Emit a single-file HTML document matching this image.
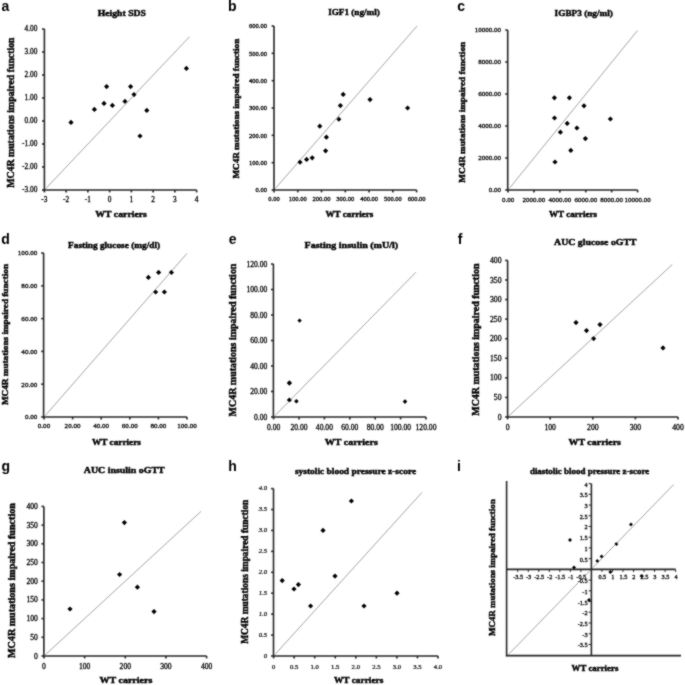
<!DOCTYPE html>
<html><head><meta charset="utf-8"><style>
html,body{margin:0;padding:0;background:#fff;width:685px;height:685px;overflow:hidden}
svg{display:block}
</style></head><body>
<svg width="685" height="685" viewBox="0 0 685 685">
<defs><filter id="bl" x="0" y="0" width="685" height="685" filterUnits="userSpaceOnUse"><feConvolveMatrix order="3" kernelMatrix="1 2 1 2 12 2 1 2 1" divisor="24" edgeMode="duplicate"/></filter></defs>
<rect width="685" height="685" fill="#fff"/>
<g filter="url(#bl)">
<text x="1.45" y="11.2" font-size="14" text-anchor="start" font-weight="bold" font-family='"Liberation Sans", sans-serif' fill="#000" >a</text>
<text x="121.85" y="15.6" font-size="9.1" text-anchor="middle" font-weight="bold" font-family='"Liberation Serif", serif' fill="#000" textLength="48.3" lengthAdjust="spacingAndGlyphs" stroke="#000" stroke-width="0.45">Height SDS</text>
<line x1="44.4" y1="190" x2="189.6" y2="36.6" stroke="#a4a4a4" stroke-width="1.0"/>
<line x1="44.4" y1="29" x2="44.4" y2="190.75" stroke="#262626" stroke-width="1.6"/>
<line x1="43.65" y1="190" x2="196.6" y2="190" stroke="#262626" stroke-width="1.6"/>
<line x1="42" y1="29" x2="44.4" y2="29" stroke="#262626" stroke-width="1.6"/>
<text x="37.3" y="31.48" font-size="7.3" text-anchor="end" font-weight="normal" font-family='"Liberation Serif", serif' fill="#000" stroke="#000" stroke-width="0.28">4.00</text>
<line x1="42" y1="52" x2="44.4" y2="52" stroke="#262626" stroke-width="1.6"/>
<text x="37.3" y="54.48" font-size="7.3" text-anchor="end" font-weight="normal" font-family='"Liberation Serif", serif' fill="#000" stroke="#000" stroke-width="0.28">3.00</text>
<line x1="42" y1="75" x2="44.4" y2="75" stroke="#262626" stroke-width="1.6"/>
<text x="37.3" y="77.48" font-size="7.3" text-anchor="end" font-weight="normal" font-family='"Liberation Serif", serif' fill="#000" stroke="#000" stroke-width="0.28">2.00</text>
<line x1="42" y1="98" x2="44.4" y2="98" stroke="#262626" stroke-width="1.6"/>
<text x="37.3" y="100.48" font-size="7.3" text-anchor="end" font-weight="normal" font-family='"Liberation Serif", serif' fill="#000" stroke="#000" stroke-width="0.28">1.00</text>
<line x1="42" y1="121" x2="44.4" y2="121" stroke="#262626" stroke-width="1.6"/>
<text x="37.3" y="123.48" font-size="7.3" text-anchor="end" font-weight="normal" font-family='"Liberation Serif", serif' fill="#000" stroke="#000" stroke-width="0.28">0.00</text>
<line x1="42" y1="144" x2="44.4" y2="144" stroke="#262626" stroke-width="1.6"/>
<text x="37.3" y="146.48" font-size="7.3" text-anchor="end" font-weight="normal" font-family='"Liberation Serif", serif' fill="#000" stroke="#000" stroke-width="0.28">-1.00</text>
<line x1="42" y1="167" x2="44.4" y2="167" stroke="#262626" stroke-width="1.6"/>
<text x="37.3" y="169.48" font-size="7.3" text-anchor="end" font-weight="normal" font-family='"Liberation Serif", serif' fill="#000" stroke="#000" stroke-width="0.28">-2.00</text>
<line x1="42" y1="190" x2="44.4" y2="190" stroke="#262626" stroke-width="1.6"/>
<text x="37.3" y="192.48" font-size="7.3" text-anchor="end" font-weight="normal" font-family='"Liberation Serif", serif' fill="#000" stroke="#000" stroke-width="0.28">-3.00</text>
<line x1="44.4" y1="190" x2="44.4" y2="192.4" stroke="#262626" stroke-width="1.6"/>
<text x="44.4" y="202.48" font-size="7.3" text-anchor="middle" font-weight="normal" font-family='"Liberation Serif", serif' fill="#000" stroke="#000" stroke-width="0.28">-3</text>
<line x1="66.14" y1="190" x2="66.14" y2="192.4" stroke="#262626" stroke-width="1.6"/>
<text x="66.14" y="202.48" font-size="7.3" text-anchor="middle" font-weight="normal" font-family='"Liberation Serif", serif' fill="#000" stroke="#000" stroke-width="0.28">-2</text>
<line x1="87.89" y1="190" x2="87.89" y2="192.4" stroke="#262626" stroke-width="1.6"/>
<text x="87.89" y="202.48" font-size="7.3" text-anchor="middle" font-weight="normal" font-family='"Liberation Serif", serif' fill="#000" stroke="#000" stroke-width="0.28">-1</text>
<line x1="109.63" y1="190" x2="109.63" y2="192.4" stroke="#262626" stroke-width="1.6"/>
<text x="109.63" y="202.48" font-size="7.3" text-anchor="middle" font-weight="normal" font-family='"Liberation Serif", serif' fill="#000" stroke="#000" stroke-width="0.28">0</text>
<line x1="131.37" y1="190" x2="131.37" y2="192.4" stroke="#262626" stroke-width="1.6"/>
<text x="131.37" y="202.48" font-size="7.3" text-anchor="middle" font-weight="normal" font-family='"Liberation Serif", serif' fill="#000" stroke="#000" stroke-width="0.28">1</text>
<line x1="153.11" y1="190" x2="153.11" y2="192.4" stroke="#262626" stroke-width="1.6"/>
<text x="153.11" y="202.48" font-size="7.3" text-anchor="middle" font-weight="normal" font-family='"Liberation Serif", serif' fill="#000" stroke="#000" stroke-width="0.28">2</text>
<line x1="174.86" y1="190" x2="174.86" y2="192.4" stroke="#262626" stroke-width="1.6"/>
<text x="174.86" y="202.48" font-size="7.3" text-anchor="middle" font-weight="normal" font-family='"Liberation Serif", serif' fill="#000" stroke="#000" stroke-width="0.28">3</text>
<line x1="196.6" y1="190" x2="196.6" y2="192.4" stroke="#262626" stroke-width="1.6"/>
<text x="196.6" y="202.48" font-size="7.3" text-anchor="middle" font-weight="normal" font-family='"Liberation Serif", serif' fill="#000" stroke="#000" stroke-width="0.28">4</text>
<polygon points="186.4,65.8 189,68.4 186.4,71 183.8,68.4" fill="#000"/>
<polygon points="106.6,84 109.2,86.6 106.6,89.2 104,86.6" fill="#000"/>
<polygon points="130.6,84 133.2,86.6 130.6,89.2 128,86.6" fill="#000"/>
<polygon points="134,92 136.6,94.6 134,97.2 131.4,94.6" fill="#000"/>
<polygon points="104,100.8 106.6,103.4 104,106 101.4,103.4" fill="#000"/>
<polygon points="112.4,102.8 115,105.4 112.4,108 109.8,105.4" fill="#000"/>
<polygon points="125,98.8 127.6,101.4 125,104 122.4,101.4" fill="#000"/>
<polygon points="146.8,107.8 149.4,110.4 146.8,113 144.2,110.4" fill="#000"/>
<polygon points="140,133.4 142.6,136 140,138.6 137.4,136" fill="#000"/>
<polygon points="94.4,106.8 97,109.4 94.4,112 91.8,109.4" fill="#000"/>
<polygon points="71,119.8 73.6,122.4 71,125 68.4,122.4" fill="#000"/>
<text x="121.1" y="217" font-size="9.0" text-anchor="middle" font-weight="bold" font-family='"Liberation Serif", serif' fill="#000" textLength="51.6" lengthAdjust="spacingAndGlyphs" stroke="#000" stroke-width="0.45">WT carriers</text>
<text x="0" y="0" transform="translate(13.8,112.6) rotate(-90)" font-size="9.5" text-anchor="middle" font-weight="bold" font-family='"Liberation Serif", serif' fill="#000" textLength="150.2" lengthAdjust="spacingAndGlyphs" stroke="#000" stroke-width="0.45">MC4R mutations impaired function</text>
<text x="227.95" y="10.9" font-size="14" text-anchor="start" font-weight="bold" font-family='"Liberation Sans", sans-serif' fill="#000" >b</text>
<text x="354" y="15.2" font-size="9.1" text-anchor="middle" font-weight="bold" font-family='"Liberation Serif", serif' fill="#000" textLength="51.6" lengthAdjust="spacingAndGlyphs" stroke="#000" stroke-width="0.45">IGF1 (ng/ml)</text>
<line x1="274" y1="190" x2="417" y2="26" stroke="#a4a4a4" stroke-width="1.0"/>
<line x1="274" y1="26" x2="274" y2="190.75" stroke="#262626" stroke-width="1.6"/>
<line x1="273.25" y1="190" x2="416.6" y2="190" stroke="#262626" stroke-width="1.6"/>
<line x1="271.6" y1="26" x2="274" y2="26" stroke="#262626" stroke-width="1.6"/>
<text x="266.9" y="28.21" font-size="6.5" text-anchor="end" font-weight="normal" font-family='"Liberation Serif", serif' fill="#000" stroke="#000" stroke-width="0.28">600.00</text>
<line x1="271.6" y1="53.33" x2="274" y2="53.33" stroke="#262626" stroke-width="1.6"/>
<text x="266.9" y="55.54" font-size="6.5" text-anchor="end" font-weight="normal" font-family='"Liberation Serif", serif' fill="#000" stroke="#000" stroke-width="0.28">500.00</text>
<line x1="271.6" y1="80.67" x2="274" y2="80.67" stroke="#262626" stroke-width="1.6"/>
<text x="266.9" y="82.88" font-size="6.5" text-anchor="end" font-weight="normal" font-family='"Liberation Serif", serif' fill="#000" stroke="#000" stroke-width="0.28">400.00</text>
<line x1="271.6" y1="108" x2="274" y2="108" stroke="#262626" stroke-width="1.6"/>
<text x="266.9" y="110.21" font-size="6.5" text-anchor="end" font-weight="normal" font-family='"Liberation Serif", serif' fill="#000" stroke="#000" stroke-width="0.28">300.00</text>
<line x1="271.6" y1="135.33" x2="274" y2="135.33" stroke="#262626" stroke-width="1.6"/>
<text x="266.9" y="137.54" font-size="6.5" text-anchor="end" font-weight="normal" font-family='"Liberation Serif", serif' fill="#000" stroke="#000" stroke-width="0.28">200.00</text>
<line x1="271.6" y1="162.67" x2="274" y2="162.67" stroke="#262626" stroke-width="1.6"/>
<text x="266.9" y="164.88" font-size="6.5" text-anchor="end" font-weight="normal" font-family='"Liberation Serif", serif' fill="#000" stroke="#000" stroke-width="0.28">100.00</text>
<line x1="271.6" y1="190" x2="274" y2="190" stroke="#262626" stroke-width="1.6"/>
<text x="266.9" y="192.21" font-size="6.5" text-anchor="end" font-weight="normal" font-family='"Liberation Serif", serif' fill="#000" stroke="#000" stroke-width="0.28">0.00</text>
<line x1="274" y1="190" x2="274" y2="192.4" stroke="#262626" stroke-width="1.6"/>
<text x="274" y="200.81" font-size="6.5" text-anchor="middle" font-weight="normal" font-family='"Liberation Serif", serif' fill="#000" stroke="#000" stroke-width="0.28">0.00</text>
<line x1="297.77" y1="190" x2="297.77" y2="192.4" stroke="#262626" stroke-width="1.6"/>
<text x="297.77" y="200.81" font-size="6.5" text-anchor="middle" font-weight="normal" font-family='"Liberation Serif", serif' fill="#000" stroke="#000" stroke-width="0.28">100.00</text>
<line x1="321.53" y1="190" x2="321.53" y2="192.4" stroke="#262626" stroke-width="1.6"/>
<text x="321.53" y="200.81" font-size="6.5" text-anchor="middle" font-weight="normal" font-family='"Liberation Serif", serif' fill="#000" stroke="#000" stroke-width="0.28">200.00</text>
<line x1="345.3" y1="190" x2="345.3" y2="192.4" stroke="#262626" stroke-width="1.6"/>
<text x="345.3" y="200.81" font-size="6.5" text-anchor="middle" font-weight="normal" font-family='"Liberation Serif", serif' fill="#000" stroke="#000" stroke-width="0.28">300.00</text>
<line x1="369.07" y1="190" x2="369.07" y2="192.4" stroke="#262626" stroke-width="1.6"/>
<text x="369.07" y="200.81" font-size="6.5" text-anchor="middle" font-weight="normal" font-family='"Liberation Serif", serif' fill="#000" stroke="#000" stroke-width="0.28">400.00</text>
<line x1="392.83" y1="190" x2="392.83" y2="192.4" stroke="#262626" stroke-width="1.6"/>
<text x="392.83" y="200.81" font-size="6.5" text-anchor="middle" font-weight="normal" font-family='"Liberation Serif", serif' fill="#000" stroke="#000" stroke-width="0.28">500.00</text>
<line x1="416.6" y1="190" x2="416.6" y2="192.4" stroke="#262626" stroke-width="1.6"/>
<text x="416.6" y="200.81" font-size="6.5" text-anchor="middle" font-weight="normal" font-family='"Liberation Serif", serif' fill="#000" stroke="#000" stroke-width="0.28">600.00</text>
<polygon points="300,159.6 302.6,162.2 300,164.8 297.4,162.2" fill="#000"/>
<polygon points="306.6,156.8 309.2,159.4 306.6,162 304,159.4" fill="#000"/>
<polygon points="312.2,155.2 314.8,157.8 312.2,160.4 309.6,157.8" fill="#000"/>
<polygon points="325.6,148.2 328.2,150.8 325.6,153.4 323,150.8" fill="#000"/>
<polygon points="326.4,134.6 329,137.2 326.4,139.8 323.8,137.2" fill="#000"/>
<polygon points="319.8,123.6 322.4,126.2 319.8,128.8 317.2,126.2" fill="#000"/>
<polygon points="338.8,116.6 341.4,119.2 338.8,121.8 336.2,119.2" fill="#000"/>
<polygon points="340.4,103 343,105.6 340.4,108.2 337.8,105.6" fill="#000"/>
<polygon points="343.2,91.8 345.8,94.4 343.2,97 340.6,94.4" fill="#000"/>
<polygon points="370,97 372.6,99.6 370,102.2 367.4,99.6" fill="#000"/>
<polygon points="407.6,105.4 410.2,108 407.6,110.6 405,108" fill="#000"/>
<text x="349.4" y="217" font-size="9.0" text-anchor="middle" font-weight="bold" font-family='"Liberation Serif", serif' fill="#000" textLength="48" lengthAdjust="spacingAndGlyphs" stroke="#000" stroke-width="0.45">WT carriers</text>
<text x="0" y="0" transform="translate(238.9,108.65) rotate(-90)" font-size="9.0" text-anchor="middle" font-weight="bold" font-family='"Liberation Serif", serif' fill="#000" textLength="139.7" lengthAdjust="spacingAndGlyphs" stroke="#000" stroke-width="0.45">MC4R mutations impaired function</text>
<text x="457.25" y="11.2" font-size="14" text-anchor="start" font-weight="bold" font-family='"Liberation Sans", sans-serif' fill="#000" >c</text>
<text x="583.75" y="16" font-size="9.1" text-anchor="middle" font-weight="bold" font-family='"Liberation Serif", serif' fill="#000" textLength="58.3" lengthAdjust="spacingAndGlyphs" stroke="#000" stroke-width="0.45">IGBP3 (ng/ml)</text>
<line x1="508" y1="190" x2="637.4" y2="30.6" stroke="#a4a4a4" stroke-width="1.0"/>
<line x1="507.7" y1="30" x2="507.7" y2="190.75" stroke="#262626" stroke-width="1.6"/>
<line x1="506.95" y1="190" x2="637.6" y2="190" stroke="#262626" stroke-width="1.6"/>
<line x1="505.3" y1="30" x2="507.7" y2="30" stroke="#262626" stroke-width="1.6"/>
<text x="501.1" y="32.38" font-size="7.0" text-anchor="end" font-weight="normal" font-family='"Liberation Serif", serif' fill="#000" stroke="#000" stroke-width="0.28">10000.00</text>
<line x1="505.3" y1="62" x2="507.7" y2="62" stroke="#262626" stroke-width="1.6"/>
<text x="501.1" y="64.38" font-size="7.0" text-anchor="end" font-weight="normal" font-family='"Liberation Serif", serif' fill="#000" stroke="#000" stroke-width="0.28">8000.00</text>
<line x1="505.3" y1="94" x2="507.7" y2="94" stroke="#262626" stroke-width="1.6"/>
<text x="501.1" y="96.38" font-size="7.0" text-anchor="end" font-weight="normal" font-family='"Liberation Serif", serif' fill="#000" stroke="#000" stroke-width="0.28">6000.00</text>
<line x1="505.3" y1="126" x2="507.7" y2="126" stroke="#262626" stroke-width="1.6"/>
<text x="501.1" y="128.38" font-size="7.0" text-anchor="end" font-weight="normal" font-family='"Liberation Serif", serif' fill="#000" stroke="#000" stroke-width="0.28">4000.00</text>
<line x1="505.3" y1="158" x2="507.7" y2="158" stroke="#262626" stroke-width="1.6"/>
<text x="501.1" y="160.38" font-size="7.0" text-anchor="end" font-weight="normal" font-family='"Liberation Serif", serif' fill="#000" stroke="#000" stroke-width="0.28">2000.00</text>
<line x1="505.3" y1="190" x2="507.7" y2="190" stroke="#262626" stroke-width="1.6"/>
<text x="501.1" y="192.38" font-size="7.0" text-anchor="end" font-weight="normal" font-family='"Liberation Serif", serif' fill="#000" stroke="#000" stroke-width="0.28">0.00</text>
<line x1="508" y1="190" x2="508" y2="192.4" stroke="#262626" stroke-width="1.6"/>
<text x="508" y="202.48" font-size="7.0" text-anchor="middle" font-weight="normal" font-family='"Liberation Serif", serif' fill="#000" stroke="#000" stroke-width="0.28">0.00</text>
<line x1="533.92" y1="190" x2="533.92" y2="192.4" stroke="#262626" stroke-width="1.6"/>
<text x="533.92" y="202.48" font-size="7.0" text-anchor="middle" font-weight="normal" font-family='"Liberation Serif", serif' fill="#000" stroke="#000" stroke-width="0.28">2000.00</text>
<line x1="559.84" y1="190" x2="559.84" y2="192.4" stroke="#262626" stroke-width="1.6"/>
<text x="559.84" y="202.48" font-size="7.0" text-anchor="middle" font-weight="normal" font-family='"Liberation Serif", serif' fill="#000" stroke="#000" stroke-width="0.28">4000.00</text>
<line x1="585.76" y1="190" x2="585.76" y2="192.4" stroke="#262626" stroke-width="1.6"/>
<text x="585.76" y="202.48" font-size="7.0" text-anchor="middle" font-weight="normal" font-family='"Liberation Serif", serif' fill="#000" stroke="#000" stroke-width="0.28">6000.00</text>
<line x1="611.68" y1="190" x2="611.68" y2="192.4" stroke="#262626" stroke-width="1.6"/>
<text x="611.68" y="202.48" font-size="7.0" text-anchor="middle" font-weight="normal" font-family='"Liberation Serif", serif' fill="#000" stroke="#000" stroke-width="0.28">8000.00</text>
<line x1="637.6" y1="190" x2="637.6" y2="192.4" stroke="#262626" stroke-width="1.6"/>
<text x="637.6" y="202.48" font-size="7.0" text-anchor="middle" font-weight="normal" font-family='"Liberation Serif", serif' fill="#000" stroke="#000" stroke-width="0.28">10000.00</text>
<polygon points="554.4,95.2 557,97.8 554.4,100.4 551.8,97.8" fill="#000"/>
<polygon points="569.4,95.2 572,97.8 569.4,100.4 566.8,97.8" fill="#000"/>
<polygon points="584,103.2 586.6,105.8 584,108.4 581.4,105.8" fill="#000"/>
<polygon points="554.5,115.4 557.1,118 554.5,120.6 551.9,118" fill="#000"/>
<polygon points="567.2,120.8 569.8,123.4 567.2,126 564.6,123.4" fill="#000"/>
<polygon points="576.9,125.4 579.5,128 576.9,130.6 574.3,128" fill="#000"/>
<polygon points="560.4,129.6 563,132.2 560.4,134.8 557.8,132.2" fill="#000"/>
<polygon points="585.4,136 588,138.6 585.4,141.2 582.8,138.6" fill="#000"/>
<polygon points="570.8,147.8 573.4,150.4 570.8,153 568.2,150.4" fill="#000"/>
<polygon points="555,159.4 557.6,162 555,164.6 552.4,162" fill="#000"/>
<polygon points="610.4,116.4 613,119 610.4,121.6 607.8,119" fill="#000"/>
<text x="573" y="216.8" font-size="9.0" text-anchor="middle" font-weight="bold" font-family='"Liberation Serif", serif' fill="#000" textLength="48.2" lengthAdjust="spacingAndGlyphs" stroke="#000" stroke-width="0.45">WT carriers</text>
<text x="0" y="0" transform="translate(465,112.3) rotate(-90)" font-size="9.0" text-anchor="middle" font-weight="bold" font-family='"Liberation Serif", serif' fill="#000" textLength="140.8" lengthAdjust="spacingAndGlyphs" stroke="#000" stroke-width="0.45">MC4R mutations impaired function</text>
<text x="1.25" y="244.1" font-size="14" text-anchor="start" font-weight="bold" font-family='"Liberation Sans", sans-serif' fill="#000" >d</text>
<text x="114.1" y="247.9" font-size="9.1" text-anchor="middle" font-weight="bold" font-family='"Liberation Serif", serif' fill="#000" textLength="92" lengthAdjust="spacingAndGlyphs" stroke="#000" stroke-width="0.45">Fasting glucose (mg/dl)</text>
<line x1="44" y1="417" x2="187" y2="253.4" stroke="#a4a4a4" stroke-width="1.0"/>
<line x1="43.6" y1="253" x2="43.6" y2="417.75" stroke="#262626" stroke-width="1.6"/>
<line x1="42.85" y1="417" x2="187" y2="417" stroke="#262626" stroke-width="1.6"/>
<line x1="41.2" y1="253" x2="43.6" y2="253" stroke="#262626" stroke-width="1.6"/>
<text x="37.3" y="255.41" font-size="7.1" text-anchor="end" font-weight="normal" font-family='"Liberation Serif", serif' fill="#000" stroke="#000" stroke-width="0.28">100.00</text>
<line x1="41.2" y1="285.8" x2="43.6" y2="285.8" stroke="#262626" stroke-width="1.6"/>
<text x="37.3" y="288.21" font-size="7.1" text-anchor="end" font-weight="normal" font-family='"Liberation Serif", serif' fill="#000" stroke="#000" stroke-width="0.28">80.00</text>
<line x1="41.2" y1="318.6" x2="43.6" y2="318.6" stroke="#262626" stroke-width="1.6"/>
<text x="37.3" y="321.01" font-size="7.1" text-anchor="end" font-weight="normal" font-family='"Liberation Serif", serif' fill="#000" stroke="#000" stroke-width="0.28">60.00</text>
<line x1="41.2" y1="351.4" x2="43.6" y2="351.4" stroke="#262626" stroke-width="1.6"/>
<text x="37.3" y="353.81" font-size="7.1" text-anchor="end" font-weight="normal" font-family='"Liberation Serif", serif' fill="#000" stroke="#000" stroke-width="0.28">40.00</text>
<line x1="41.2" y1="384.2" x2="43.6" y2="384.2" stroke="#262626" stroke-width="1.6"/>
<text x="37.3" y="386.61" font-size="7.1" text-anchor="end" font-weight="normal" font-family='"Liberation Serif", serif' fill="#000" stroke="#000" stroke-width="0.28">20.00</text>
<line x1="41.2" y1="417" x2="43.6" y2="417" stroke="#262626" stroke-width="1.6"/>
<text x="37.3" y="419.41" font-size="7.1" text-anchor="end" font-weight="normal" font-family='"Liberation Serif", serif' fill="#000" stroke="#000" stroke-width="0.28">0.00</text>
<line x1="44" y1="417" x2="44" y2="419.4" stroke="#262626" stroke-width="1.6"/>
<text x="44" y="427.71" font-size="7.1" text-anchor="middle" font-weight="normal" font-family='"Liberation Serif", serif' fill="#000" stroke="#000" stroke-width="0.28">0.00</text>
<line x1="72.6" y1="417" x2="72.6" y2="419.4" stroke="#262626" stroke-width="1.6"/>
<text x="72.6" y="427.71" font-size="7.1" text-anchor="middle" font-weight="normal" font-family='"Liberation Serif", serif' fill="#000" stroke="#000" stroke-width="0.28">20.00</text>
<line x1="101.2" y1="417" x2="101.2" y2="419.4" stroke="#262626" stroke-width="1.6"/>
<text x="101.2" y="427.71" font-size="7.1" text-anchor="middle" font-weight="normal" font-family='"Liberation Serif", serif' fill="#000" stroke="#000" stroke-width="0.28">40.00</text>
<line x1="129.8" y1="417" x2="129.8" y2="419.4" stroke="#262626" stroke-width="1.6"/>
<text x="129.8" y="427.71" font-size="7.1" text-anchor="middle" font-weight="normal" font-family='"Liberation Serif", serif' fill="#000" stroke="#000" stroke-width="0.28">60.00</text>
<line x1="158.4" y1="417" x2="158.4" y2="419.4" stroke="#262626" stroke-width="1.6"/>
<text x="158.4" y="427.71" font-size="7.1" text-anchor="middle" font-weight="normal" font-family='"Liberation Serif", serif' fill="#000" stroke="#000" stroke-width="0.28">80.00</text>
<line x1="187" y1="417" x2="187" y2="419.4" stroke="#262626" stroke-width="1.6"/>
<text x="187" y="427.71" font-size="7.1" text-anchor="middle" font-weight="normal" font-family='"Liberation Serif", serif' fill="#000" stroke="#000" stroke-width="0.28">100.00</text>
<polygon points="148.4,274.8 151,277.4 148.4,280 145.8,277.4" fill="#000"/>
<polygon points="158.6,269.8 161.2,272.4 158.6,275 156,272.4" fill="#000"/>
<polygon points="171.4,269.8 174,272.4 171.4,275 168.8,272.4" fill="#000"/>
<polygon points="155.6,289.4 158.2,292 155.6,294.6 153,292" fill="#000"/>
<polygon points="164.4,289.4 167,292 164.4,294.6 161.8,292" fill="#000"/>
<text x="116.45" y="444.6" font-size="9.0" text-anchor="middle" font-weight="bold" font-family='"Liberation Serif", serif' fill="#000" textLength="49.1" lengthAdjust="spacingAndGlyphs" stroke="#000" stroke-width="0.45">WT carriers</text>
<text x="0" y="0" transform="translate(8.3,334.55) rotate(-90)" font-size="9.2" text-anchor="middle" font-weight="bold" font-family='"Liberation Serif", serif' fill="#000" textLength="141.1" lengthAdjust="spacingAndGlyphs" stroke="#000" stroke-width="0.45">MC4R mutations impaired function</text>
<text x="228.7" y="244.2" font-size="14" text-anchor="start" font-weight="bold" font-family='"Liberation Sans", sans-serif' fill="#000" >e</text>
<text x="351.35" y="248.3" font-size="9.1" text-anchor="middle" font-weight="bold" font-family='"Liberation Serif", serif' fill="#000" textLength="93.5" lengthAdjust="spacingAndGlyphs" stroke="#000" stroke-width="0.45">Fasting insulin (mU/l)</text>
<line x1="273.6" y1="417" x2="416" y2="272.2" stroke="#a4a4a4" stroke-width="1.0"/>
<line x1="273.4" y1="264" x2="273.4" y2="417.75" stroke="#262626" stroke-width="1.6"/>
<line x1="272.65" y1="417" x2="426" y2="417" stroke="#262626" stroke-width="1.6"/>
<line x1="271" y1="264" x2="273.4" y2="264" stroke="#262626" stroke-width="1.6"/>
<text x="267.3" y="266.58" font-size="7.6" text-anchor="end" font-weight="normal" font-family='"Liberation Serif", serif' fill="#000" stroke="#000" stroke-width="0.28">120.00</text>
<line x1="271" y1="289.5" x2="273.4" y2="289.5" stroke="#262626" stroke-width="1.6"/>
<text x="267.3" y="292.08" font-size="7.6" text-anchor="end" font-weight="normal" font-family='"Liberation Serif", serif' fill="#000" stroke="#000" stroke-width="0.28">100.00</text>
<line x1="271" y1="315" x2="273.4" y2="315" stroke="#262626" stroke-width="1.6"/>
<text x="267.3" y="317.58" font-size="7.6" text-anchor="end" font-weight="normal" font-family='"Liberation Serif", serif' fill="#000" stroke="#000" stroke-width="0.28">80.00</text>
<line x1="271" y1="340.5" x2="273.4" y2="340.5" stroke="#262626" stroke-width="1.6"/>
<text x="267.3" y="343.08" font-size="7.6" text-anchor="end" font-weight="normal" font-family='"Liberation Serif", serif' fill="#000" stroke="#000" stroke-width="0.28">60.00</text>
<line x1="271" y1="366" x2="273.4" y2="366" stroke="#262626" stroke-width="1.6"/>
<text x="267.3" y="368.58" font-size="7.6" text-anchor="end" font-weight="normal" font-family='"Liberation Serif", serif' fill="#000" stroke="#000" stroke-width="0.28">40.00</text>
<line x1="271" y1="391.5" x2="273.4" y2="391.5" stroke="#262626" stroke-width="1.6"/>
<text x="267.3" y="394.08" font-size="7.6" text-anchor="end" font-weight="normal" font-family='"Liberation Serif", serif' fill="#000" stroke="#000" stroke-width="0.28">20.00</text>
<line x1="271" y1="417" x2="273.4" y2="417" stroke="#262626" stroke-width="1.6"/>
<text x="267.3" y="419.58" font-size="7.6" text-anchor="end" font-weight="normal" font-family='"Liberation Serif", serif' fill="#000" stroke="#000" stroke-width="0.28">0.00</text>
<line x1="273.6" y1="417" x2="273.6" y2="419.4" stroke="#262626" stroke-width="1.6"/>
<text x="273.6" y="429.68" font-size="7.6" text-anchor="middle" font-weight="normal" font-family='"Liberation Serif", serif' fill="#000" stroke="#000" stroke-width="0.28">0.00</text>
<line x1="299" y1="417" x2="299" y2="419.4" stroke="#262626" stroke-width="1.6"/>
<text x="299" y="429.68" font-size="7.6" text-anchor="middle" font-weight="normal" font-family='"Liberation Serif", serif' fill="#000" stroke="#000" stroke-width="0.28">20.00</text>
<line x1="324.4" y1="417" x2="324.4" y2="419.4" stroke="#262626" stroke-width="1.6"/>
<text x="324.4" y="429.68" font-size="7.6" text-anchor="middle" font-weight="normal" font-family='"Liberation Serif", serif' fill="#000" stroke="#000" stroke-width="0.28">40.00</text>
<line x1="349.8" y1="417" x2="349.8" y2="419.4" stroke="#262626" stroke-width="1.6"/>
<text x="349.8" y="429.68" font-size="7.6" text-anchor="middle" font-weight="normal" font-family='"Liberation Serif", serif' fill="#000" stroke="#000" stroke-width="0.28">60.00</text>
<line x1="375.2" y1="417" x2="375.2" y2="419.4" stroke="#262626" stroke-width="1.6"/>
<text x="375.2" y="429.68" font-size="7.6" text-anchor="middle" font-weight="normal" font-family='"Liberation Serif", serif' fill="#000" stroke="#000" stroke-width="0.28">80.00</text>
<line x1="400.6" y1="417" x2="400.6" y2="419.4" stroke="#262626" stroke-width="1.6"/>
<text x="400.6" y="429.68" font-size="7.6" text-anchor="middle" font-weight="normal" font-family='"Liberation Serif", serif' fill="#000" stroke="#000" stroke-width="0.28">100.00</text>
<line x1="426" y1="417" x2="426" y2="419.4" stroke="#262626" stroke-width="1.6"/>
<text x="426" y="429.68" font-size="7.6" text-anchor="middle" font-weight="normal" font-family='"Liberation Serif", serif' fill="#000" stroke="#000" stroke-width="0.28">120.00</text>
<polygon points="299.6,318.4 301.8,320.6 299.6,322.8 297.4,320.6" fill="#000"/>
<polygon points="289.4,380.3 292.1,383 289.4,385.7 286.7,383" fill="#000"/>
<polygon points="289.4,397.4 292,400 289.4,402.6 286.8,400" fill="#000"/>
<polygon points="296.4,398.9 298.7,401.2 296.4,403.5 294.1,401.2" fill="#000"/>
<polygon points="405,399.3 407.3,401.6 405,403.9 402.7,401.6" fill="#000"/>
<text x="351.3" y="444.6" font-size="9.0" text-anchor="middle" font-weight="bold" font-family='"Liberation Serif", serif' fill="#000" textLength="53" lengthAdjust="spacingAndGlyphs" stroke="#000" stroke-width="0.45">WT carriers</text>
<text x="0" y="0" transform="translate(236.2,340) rotate(-90)" font-size="10.0" text-anchor="middle" font-weight="bold" font-family='"Liberation Serif", serif' fill="#000" textLength="152.8" lengthAdjust="spacingAndGlyphs" stroke="#000" stroke-width="0.45">MC4R mutations impaired function</text>
<text x="457.75" y="244.2" font-size="14" text-anchor="start" font-weight="bold" font-family='"Liberation Sans", sans-serif' fill="#000" >f</text>
<text x="595.35" y="245.4" font-size="9.1" text-anchor="middle" font-weight="bold" font-family='"Liberation Serif", serif' fill="#000" textLength="82.5" lengthAdjust="spacingAndGlyphs" stroke="#000" stroke-width="0.45">AUC glucose oGTT</text>
<line x1="507.6" y1="417" x2="672.4" y2="264.4" stroke="#a4a4a4" stroke-width="1.0"/>
<line x1="507.6" y1="260.4" x2="507.6" y2="417.75" stroke="#262626" stroke-width="1.6"/>
<line x1="506.85" y1="417" x2="678" y2="417" stroke="#262626" stroke-width="1.6"/>
<line x1="505.2" y1="260.4" x2="507.6" y2="260.4" stroke="#262626" stroke-width="1.6"/>
<text x="501.5" y="263.02" font-size="7.7" text-anchor="end" font-weight="normal" font-family='"Liberation Serif", serif' fill="#000" stroke="#000" stroke-width="0.28">400</text>
<line x1="505.2" y1="279.97" x2="507.6" y2="279.97" stroke="#262626" stroke-width="1.6"/>
<text x="501.5" y="282.59" font-size="7.7" text-anchor="end" font-weight="normal" font-family='"Liberation Serif", serif' fill="#000" stroke="#000" stroke-width="0.28">350</text>
<line x1="505.2" y1="299.55" x2="507.6" y2="299.55" stroke="#262626" stroke-width="1.6"/>
<text x="501.5" y="302.17" font-size="7.7" text-anchor="end" font-weight="normal" font-family='"Liberation Serif", serif' fill="#000" stroke="#000" stroke-width="0.28">300</text>
<line x1="505.2" y1="319.12" x2="507.6" y2="319.12" stroke="#262626" stroke-width="1.6"/>
<text x="501.5" y="321.74" font-size="7.7" text-anchor="end" font-weight="normal" font-family='"Liberation Serif", serif' fill="#000" stroke="#000" stroke-width="0.28">250</text>
<line x1="505.2" y1="338.7" x2="507.6" y2="338.7" stroke="#262626" stroke-width="1.6"/>
<text x="501.5" y="341.32" font-size="7.7" text-anchor="end" font-weight="normal" font-family='"Liberation Serif", serif' fill="#000" stroke="#000" stroke-width="0.28">200</text>
<line x1="505.2" y1="358.27" x2="507.6" y2="358.27" stroke="#262626" stroke-width="1.6"/>
<text x="501.5" y="360.89" font-size="7.7" text-anchor="end" font-weight="normal" font-family='"Liberation Serif", serif' fill="#000" stroke="#000" stroke-width="0.28">150</text>
<line x1="505.2" y1="377.85" x2="507.6" y2="377.85" stroke="#262626" stroke-width="1.6"/>
<text x="501.5" y="380.47" font-size="7.7" text-anchor="end" font-weight="normal" font-family='"Liberation Serif", serif' fill="#000" stroke="#000" stroke-width="0.28">100</text>
<line x1="505.2" y1="397.42" x2="507.6" y2="397.42" stroke="#262626" stroke-width="1.6"/>
<text x="501.5" y="400.04" font-size="7.7" text-anchor="end" font-weight="normal" font-family='"Liberation Serif", serif' fill="#000" stroke="#000" stroke-width="0.28">50</text>
<line x1="505.2" y1="417" x2="507.6" y2="417" stroke="#262626" stroke-width="1.6"/>
<text x="501.5" y="419.62" font-size="7.7" text-anchor="end" font-weight="normal" font-family='"Liberation Serif", serif' fill="#000" stroke="#000" stroke-width="0.28">0</text>
<line x1="507.6" y1="417" x2="507.6" y2="419.4" stroke="#262626" stroke-width="1.6"/>
<text x="507.6" y="429.82" font-size="7.7" text-anchor="middle" font-weight="normal" font-family='"Liberation Serif", serif' fill="#000" stroke="#000" stroke-width="0.28">0</text>
<line x1="550.2" y1="417" x2="550.2" y2="419.4" stroke="#262626" stroke-width="1.6"/>
<text x="550.2" y="429.82" font-size="7.7" text-anchor="middle" font-weight="normal" font-family='"Liberation Serif", serif' fill="#000" stroke="#000" stroke-width="0.28">100</text>
<line x1="592.8" y1="417" x2="592.8" y2="419.4" stroke="#262626" stroke-width="1.6"/>
<text x="592.8" y="429.82" font-size="7.7" text-anchor="middle" font-weight="normal" font-family='"Liberation Serif", serif' fill="#000" stroke="#000" stroke-width="0.28">200</text>
<line x1="635.4" y1="417" x2="635.4" y2="419.4" stroke="#262626" stroke-width="1.6"/>
<text x="635.4" y="429.82" font-size="7.7" text-anchor="middle" font-weight="normal" font-family='"Liberation Serif", serif' fill="#000" stroke="#000" stroke-width="0.28">300</text>
<line x1="678" y1="417" x2="678" y2="419.4" stroke="#262626" stroke-width="1.6"/>
<text x="678" y="429.82" font-size="7.7" text-anchor="middle" font-weight="normal" font-family='"Liberation Serif", serif' fill="#000" stroke="#000" stroke-width="0.28">400</text>
<polygon points="576,320 578.6,322.6 576,325.2 573.4,322.6" fill="#000"/>
<polygon points="586.5,328 589.1,330.6 586.5,333.2 583.9,330.6" fill="#000"/>
<polygon points="600,322 602.6,324.6 600,327.2 597.4,324.6" fill="#000"/>
<polygon points="593.6,336 596.2,338.6 593.6,341.2 591,338.6" fill="#000"/>
<polygon points="663,345.3 665.6,347.9 663,350.5 660.4,347.9" fill="#000"/>
<text x="594.75" y="444.6" font-size="9.0" text-anchor="middle" font-weight="bold" font-family='"Liberation Serif", serif' fill="#000" textLength="52.5" lengthAdjust="spacingAndGlyphs" stroke="#000" stroke-width="0.45">WT carriers</text>
<text x="0" y="0" transform="translate(479,339.65) rotate(-90)" font-size="9.8" text-anchor="middle" font-weight="bold" font-family='"Liberation Serif", serif' fill="#000" textLength="152.1" lengthAdjust="spacingAndGlyphs" stroke="#000" stroke-width="0.45">MC4R mutations impaired function</text>
<text x="1.5" y="470.5" font-size="14" text-anchor="start" font-weight="bold" font-family='"Liberation Sans", sans-serif' fill="#000" >g</text>
<text x="124.2" y="473.4" font-size="9.1" text-anchor="middle" font-weight="bold" font-family='"Liberation Serif", serif' fill="#000" textLength="80.8" lengthAdjust="spacingAndGlyphs" stroke="#000" stroke-width="0.45">AUC insulin oGTT</text>
<line x1="44" y1="656" x2="201" y2="511.4" stroke="#a4a4a4" stroke-width="1.0"/>
<line x1="43.9" y1="506.4" x2="43.9" y2="656.75" stroke="#262626" stroke-width="1.6"/>
<line x1="43.15" y1="656" x2="206.6" y2="656" stroke="#262626" stroke-width="1.6"/>
<line x1="41.5" y1="506.4" x2="43.9" y2="506.4" stroke="#262626" stroke-width="1.6"/>
<text x="37.8" y="508.98" font-size="7.6" text-anchor="end" font-weight="normal" font-family='"Liberation Serif", serif' fill="#000" stroke="#000" stroke-width="0.28">400</text>
<line x1="41.5" y1="525.1" x2="43.9" y2="525.1" stroke="#262626" stroke-width="1.6"/>
<text x="37.8" y="527.68" font-size="7.6" text-anchor="end" font-weight="normal" font-family='"Liberation Serif", serif' fill="#000" stroke="#000" stroke-width="0.28">350</text>
<line x1="41.5" y1="543.8" x2="43.9" y2="543.8" stroke="#262626" stroke-width="1.6"/>
<text x="37.8" y="546.38" font-size="7.6" text-anchor="end" font-weight="normal" font-family='"Liberation Serif", serif' fill="#000" stroke="#000" stroke-width="0.28">300</text>
<line x1="41.5" y1="562.5" x2="43.9" y2="562.5" stroke="#262626" stroke-width="1.6"/>
<text x="37.8" y="565.08" font-size="7.6" text-anchor="end" font-weight="normal" font-family='"Liberation Serif", serif' fill="#000" stroke="#000" stroke-width="0.28">250</text>
<line x1="41.5" y1="581.2" x2="43.9" y2="581.2" stroke="#262626" stroke-width="1.6"/>
<text x="37.8" y="583.78" font-size="7.6" text-anchor="end" font-weight="normal" font-family='"Liberation Serif", serif' fill="#000" stroke="#000" stroke-width="0.28">200</text>
<line x1="41.5" y1="599.9" x2="43.9" y2="599.9" stroke="#262626" stroke-width="1.6"/>
<text x="37.8" y="602.48" font-size="7.6" text-anchor="end" font-weight="normal" font-family='"Liberation Serif", serif' fill="#000" stroke="#000" stroke-width="0.28">150</text>
<line x1="41.5" y1="618.6" x2="43.9" y2="618.6" stroke="#262626" stroke-width="1.6"/>
<text x="37.8" y="621.18" font-size="7.6" text-anchor="end" font-weight="normal" font-family='"Liberation Serif", serif' fill="#000" stroke="#000" stroke-width="0.28">100</text>
<line x1="41.5" y1="637.3" x2="43.9" y2="637.3" stroke="#262626" stroke-width="1.6"/>
<text x="37.8" y="639.88" font-size="7.6" text-anchor="end" font-weight="normal" font-family='"Liberation Serif", serif' fill="#000" stroke="#000" stroke-width="0.28">50</text>
<line x1="41.5" y1="656" x2="43.9" y2="656" stroke="#262626" stroke-width="1.6"/>
<text x="37.8" y="658.58" font-size="7.6" text-anchor="end" font-weight="normal" font-family='"Liberation Serif", serif' fill="#000" stroke="#000" stroke-width="0.28">0</text>
<line x1="44" y1="656" x2="44" y2="658.4" stroke="#262626" stroke-width="1.6"/>
<text x="44" y="668.98" font-size="7.6" text-anchor="middle" font-weight="normal" font-family='"Liberation Serif", serif' fill="#000" stroke="#000" stroke-width="0.28">0</text>
<line x1="84.65" y1="656" x2="84.65" y2="658.4" stroke="#262626" stroke-width="1.6"/>
<text x="84.65" y="668.98" font-size="7.6" text-anchor="middle" font-weight="normal" font-family='"Liberation Serif", serif' fill="#000" stroke="#000" stroke-width="0.28">100</text>
<line x1="125.3" y1="656" x2="125.3" y2="658.4" stroke="#262626" stroke-width="1.6"/>
<text x="125.3" y="668.98" font-size="7.6" text-anchor="middle" font-weight="normal" font-family='"Liberation Serif", serif' fill="#000" stroke="#000" stroke-width="0.28">200</text>
<line x1="165.95" y1="656" x2="165.95" y2="658.4" stroke="#262626" stroke-width="1.6"/>
<text x="165.95" y="668.98" font-size="7.6" text-anchor="middle" font-weight="normal" font-family='"Liberation Serif", serif' fill="#000" stroke="#000" stroke-width="0.28">300</text>
<line x1="206.6" y1="656" x2="206.6" y2="658.4" stroke="#262626" stroke-width="1.6"/>
<text x="206.6" y="668.98" font-size="7.6" text-anchor="middle" font-weight="normal" font-family='"Liberation Serif", serif' fill="#000" stroke="#000" stroke-width="0.28">400</text>
<polygon points="124.4,520 127,522.6 124.4,525.2 121.8,522.6" fill="#000"/>
<polygon points="119.6,571.9 122.2,574.5 119.6,577.1 117,574.5" fill="#000"/>
<polygon points="137.4,584.6 140,587.2 137.4,589.8 134.8,587.2" fill="#000"/>
<polygon points="154,609 156.6,611.6 154,614.2 151.4,611.6" fill="#000"/>
<polygon points="70,606.4 72.6,609 70,611.6 67.4,609" fill="#000"/>
<text x="125.9" y="683.2" font-size="9.0" text-anchor="middle" font-weight="bold" font-family='"Liberation Serif", serif' fill="#000" textLength="53" lengthAdjust="spacingAndGlyphs" stroke="#000" stroke-width="0.45">WT carriers</text>
<text x="0" y="0" transform="translate(14.7,580.55) rotate(-90)" font-size="9.9" text-anchor="middle" font-weight="bold" font-family='"Liberation Serif", serif' fill="#000" textLength="154.9" lengthAdjust="spacingAndGlyphs" stroke="#000" stroke-width="0.45">MC4R mutations impaired function</text>
<text x="228.15" y="470.6" font-size="14" text-anchor="start" font-weight="bold" font-family='"Liberation Sans", sans-serif' fill="#000" >h</text>
<text x="355.5" y="474" font-size="9.1" text-anchor="middle" font-weight="bold" font-family='"Liberation Serif", serif' fill="#000" textLength="121.2" lengthAdjust="spacingAndGlyphs" stroke="#000" stroke-width="0.45">systolic blood pressure z-score</text>
<line x1="273.6" y1="656" x2="422" y2="492.4" stroke="#a4a4a4" stroke-width="1.0"/>
<line x1="273.5" y1="488.6" x2="273.5" y2="656.75" stroke="#262626" stroke-width="1.6"/>
<line x1="272.75" y1="656" x2="438" y2="656" stroke="#262626" stroke-width="1.6"/>
<line x1="271.1" y1="488.6" x2="273.5" y2="488.6" stroke="#262626" stroke-width="1.6"/>
<text x="267.1" y="490.38" font-size="6.7" text-anchor="end" font-weight="normal" font-family='"Liberation Serif", serif' fill="#000" font-style="italic" stroke="#000" stroke-width="0.22">4.0</text>
<line x1="271.1" y1="509.53" x2="273.5" y2="509.53" stroke="#262626" stroke-width="1.6"/>
<text x="267.1" y="511.3" font-size="6.7" text-anchor="end" font-weight="normal" font-family='"Liberation Serif", serif' fill="#000" font-style="italic" stroke="#000" stroke-width="0.22">3.5</text>
<line x1="271.1" y1="530.45" x2="273.5" y2="530.45" stroke="#262626" stroke-width="1.6"/>
<text x="267.1" y="532.23" font-size="6.7" text-anchor="end" font-weight="normal" font-family='"Liberation Serif", serif' fill="#000" font-style="italic" stroke="#000" stroke-width="0.22">3.0</text>
<line x1="271.1" y1="551.38" x2="273.5" y2="551.38" stroke="#262626" stroke-width="1.6"/>
<text x="267.1" y="553.15" font-size="6.7" text-anchor="end" font-weight="normal" font-family='"Liberation Serif", serif' fill="#000" font-style="italic" stroke="#000" stroke-width="0.22">2.5</text>
<line x1="271.1" y1="572.3" x2="273.5" y2="572.3" stroke="#262626" stroke-width="1.6"/>
<text x="267.1" y="574.08" font-size="6.7" text-anchor="end" font-weight="normal" font-family='"Liberation Serif", serif' fill="#000" font-style="italic" stroke="#000" stroke-width="0.22">2.0</text>
<line x1="271.1" y1="593.23" x2="273.5" y2="593.23" stroke="#262626" stroke-width="1.6"/>
<text x="267.1" y="595" font-size="6.7" text-anchor="end" font-weight="normal" font-family='"Liberation Serif", serif' fill="#000" font-style="italic" stroke="#000" stroke-width="0.22">1.5</text>
<line x1="271.1" y1="614.15" x2="273.5" y2="614.15" stroke="#262626" stroke-width="1.6"/>
<text x="267.1" y="615.93" font-size="6.7" text-anchor="end" font-weight="normal" font-family='"Liberation Serif", serif' fill="#000" font-style="italic" stroke="#000" stroke-width="0.22">1.0</text>
<line x1="271.1" y1="635.08" x2="273.5" y2="635.08" stroke="#262626" stroke-width="1.6"/>
<text x="267.1" y="636.85" font-size="6.7" text-anchor="end" font-weight="normal" font-family='"Liberation Serif", serif' fill="#000" font-style="italic" stroke="#000" stroke-width="0.22">0.5</text>
<line x1="271.1" y1="656" x2="273.5" y2="656" stroke="#262626" stroke-width="1.6"/>
<text x="267.1" y="657.78" font-size="6.7" text-anchor="end" font-weight="normal" font-family='"Liberation Serif", serif' fill="#000" font-style="italic" stroke="#000" stroke-width="0.22">0</text>
<line x1="273.6" y1="656" x2="273.6" y2="658.4" stroke="#262626" stroke-width="1.6"/>
<text x="273.6" y="668.68" font-size="6.7" text-anchor="middle" font-weight="normal" font-family='"Liberation Serif", serif' fill="#000" stroke="#000" stroke-width="0.22">0</text>
<line x1="294.15" y1="656" x2="294.15" y2="658.4" stroke="#262626" stroke-width="1.6"/>
<text x="294.15" y="668.68" font-size="6.7" text-anchor="middle" font-weight="normal" font-family='"Liberation Serif", serif' fill="#000" stroke="#000" stroke-width="0.22">0.5</text>
<line x1="314.7" y1="656" x2="314.7" y2="658.4" stroke="#262626" stroke-width="1.6"/>
<text x="314.7" y="668.68" font-size="6.7" text-anchor="middle" font-weight="normal" font-family='"Liberation Serif", serif' fill="#000" stroke="#000" stroke-width="0.22">1.0</text>
<line x1="335.25" y1="656" x2="335.25" y2="658.4" stroke="#262626" stroke-width="1.6"/>
<text x="335.25" y="668.68" font-size="6.7" text-anchor="middle" font-weight="normal" font-family='"Liberation Serif", serif' fill="#000" stroke="#000" stroke-width="0.22">1.5</text>
<line x1="355.8" y1="656" x2="355.8" y2="658.4" stroke="#262626" stroke-width="1.6"/>
<text x="355.8" y="668.68" font-size="6.7" text-anchor="middle" font-weight="normal" font-family='"Liberation Serif", serif' fill="#000" stroke="#000" stroke-width="0.22">2.0</text>
<line x1="376.35" y1="656" x2="376.35" y2="658.4" stroke="#262626" stroke-width="1.6"/>
<text x="376.35" y="668.68" font-size="6.7" text-anchor="middle" font-weight="normal" font-family='"Liberation Serif", serif' fill="#000" stroke="#000" stroke-width="0.22">2.5</text>
<line x1="396.9" y1="656" x2="396.9" y2="658.4" stroke="#262626" stroke-width="1.6"/>
<text x="396.9" y="668.68" font-size="6.7" text-anchor="middle" font-weight="normal" font-family='"Liberation Serif", serif' fill="#000" stroke="#000" stroke-width="0.22">3.0</text>
<line x1="417.45" y1="656" x2="417.45" y2="658.4" stroke="#262626" stroke-width="1.6"/>
<text x="417.45" y="668.68" font-size="6.7" text-anchor="middle" font-weight="normal" font-family='"Liberation Serif", serif' fill="#000" stroke="#000" stroke-width="0.22">3.5</text>
<line x1="438" y1="656" x2="438" y2="658.4" stroke="#262626" stroke-width="1.6"/>
<text x="438" y="668.68" font-size="6.7" text-anchor="middle" font-weight="normal" font-family='"Liberation Serif", serif' fill="#000" stroke="#000" stroke-width="0.22">4.0</text>
<polygon points="351.4,498.4 354,501 351.4,503.6 348.8,501" fill="#000"/>
<polygon points="323,527.8 325.6,530.4 323,533 320.4,530.4" fill="#000"/>
<polygon points="335,573.5 337.6,576.1 335,578.7 332.4,576.1" fill="#000"/>
<polygon points="282.2,578 284.8,580.6 282.2,583.2 279.6,580.6" fill="#000"/>
<polygon points="294,586.4 296.6,589 294,591.6 291.4,589" fill="#000"/>
<polygon points="298.4,582 301,584.6 298.4,587.2 295.8,584.6" fill="#000"/>
<polygon points="310.6,603.4 313.2,606 310.6,608.6 308,606" fill="#000"/>
<polygon points="364,603.4 366.6,606 364,608.6 361.4,606" fill="#000"/>
<polygon points="397,590.6 399.6,593.2 397,595.8 394.4,593.2" fill="#000"/>
<text x="358.65" y="682.6" font-size="9.0" text-anchor="middle" font-weight="bold" font-family='"Liberation Serif", serif' fill="#000" textLength="49.5" lengthAdjust="spacingAndGlyphs" stroke="#000" stroke-width="0.45">WT carriers</text>
<text x="0" y="0" transform="translate(248,571.75) rotate(-90)" font-size="9.5" text-anchor="middle" font-weight="bold" font-family='"Liberation Serif", serif' fill="#000" textLength="144.1" lengthAdjust="spacingAndGlyphs" stroke="#000" stroke-width="0.45">MC4R mutations impaired function</text>
<text x="456.95" y="471" font-size="14" text-anchor="start" font-weight="bold" font-family='"Liberation Sans", sans-serif' fill="#000" >i</text>
<text x="589.55" y="474" font-size="9.1" text-anchor="middle" font-weight="bold" font-family='"Liberation Serif", serif' fill="#000" textLength="119.3" lengthAdjust="spacingAndGlyphs" stroke="#000" stroke-width="0.45">diastolic blood pressure z-score</text>
<line x1="507.4" y1="655.6" x2="673.6" y2="484.6" stroke="#a4a4a4" stroke-width="1.0"/>
<line x1="506.6" y1="481" x2="506.6" y2="656.3" stroke="#262626" stroke-width="1.6"/>
<line x1="505.9" y1="655.6" x2="681" y2="655.6" stroke="#262626" stroke-width="1.6"/>
<line x1="591.4" y1="483.6" x2="591.4" y2="655.6" stroke="#262626" stroke-width="1.6"/>
<line x1="506.6" y1="569.4" x2="675.6" y2="569.4" stroke="#262626" stroke-width="1.6"/>
<line x1="588.6" y1="644.47" x2="591.4" y2="644.47" stroke="#262626" stroke-width="1.0"/>
<text x="587.6" y="647.42" font-size="6.3" text-anchor="end" font-weight="normal" font-family='"Liberation Serif", serif' fill="#000" stroke="#000" stroke-width="0.28">-3.5</text>
<line x1="517.72" y1="569.4" x2="517.72" y2="572" stroke="#262626" stroke-width="1.0"/>
<text x="518.12" y="579.44" font-size="6.3" text-anchor="middle" font-weight="normal" font-family='"Liberation Serif", serif' fill="#000" stroke="#000" stroke-width="0.28">-3.5</text>
<line x1="588.6" y1="633.75" x2="591.4" y2="633.75" stroke="#262626" stroke-width="1.0"/>
<text x="587.6" y="636.69" font-size="6.3" text-anchor="end" font-weight="normal" font-family='"Liberation Serif", serif' fill="#000" stroke="#000" stroke-width="0.28">-3</text>
<line x1="528.25" y1="569.4" x2="528.25" y2="572" stroke="#262626" stroke-width="1.0"/>
<text x="528.65" y="579.44" font-size="6.3" text-anchor="middle" font-weight="normal" font-family='"Liberation Serif", serif' fill="#000" stroke="#000" stroke-width="0.28">-3</text>
<line x1="588.6" y1="623.02" x2="591.4" y2="623.02" stroke="#262626" stroke-width="1.0"/>
<text x="587.6" y="625.97" font-size="6.3" text-anchor="end" font-weight="normal" font-family='"Liberation Serif", serif' fill="#000" stroke="#000" stroke-width="0.28">-2.5</text>
<line x1="538.77" y1="569.4" x2="538.77" y2="572" stroke="#262626" stroke-width="1.0"/>
<text x="539.17" y="579.44" font-size="6.3" text-anchor="middle" font-weight="normal" font-family='"Liberation Serif", serif' fill="#000" stroke="#000" stroke-width="0.28">-2.5</text>
<line x1="588.6" y1="612.3" x2="591.4" y2="612.3" stroke="#262626" stroke-width="1.0"/>
<text x="587.6" y="615.24" font-size="6.3" text-anchor="end" font-weight="normal" font-family='"Liberation Serif", serif' fill="#000" stroke="#000" stroke-width="0.28">-2</text>
<line x1="549.3" y1="569.4" x2="549.3" y2="572" stroke="#262626" stroke-width="1.0"/>
<text x="549.7" y="579.44" font-size="6.3" text-anchor="middle" font-weight="normal" font-family='"Liberation Serif", serif' fill="#000" stroke="#000" stroke-width="0.28">-2</text>
<line x1="588.6" y1="601.57" x2="591.4" y2="601.57" stroke="#262626" stroke-width="1.0"/>
<text x="587.6" y="604.52" font-size="6.3" text-anchor="end" font-weight="normal" font-family='"Liberation Serif", serif' fill="#000" stroke="#000" stroke-width="0.28">-1.5</text>
<line x1="559.82" y1="569.4" x2="559.82" y2="572" stroke="#262626" stroke-width="1.0"/>
<text x="560.22" y="579.44" font-size="6.3" text-anchor="middle" font-weight="normal" font-family='"Liberation Serif", serif' fill="#000" stroke="#000" stroke-width="0.28">-1.5</text>
<line x1="588.6" y1="590.85" x2="591.4" y2="590.85" stroke="#262626" stroke-width="1.0"/>
<text x="587.6" y="593.79" font-size="6.3" text-anchor="end" font-weight="normal" font-family='"Liberation Serif", serif' fill="#000" stroke="#000" stroke-width="0.28">-1</text>
<line x1="570.35" y1="569.4" x2="570.35" y2="572" stroke="#262626" stroke-width="1.0"/>
<text x="570.75" y="579.44" font-size="6.3" text-anchor="middle" font-weight="normal" font-family='"Liberation Serif", serif' fill="#000" stroke="#000" stroke-width="0.28">-1</text>
<line x1="588.6" y1="580.12" x2="591.4" y2="580.12" stroke="#262626" stroke-width="1.0"/>
<text x="587.6" y="583.07" font-size="6.3" text-anchor="end" font-weight="normal" font-family='"Liberation Serif", serif' fill="#000" stroke="#000" stroke-width="0.28">-0.5</text>
<line x1="580.88" y1="569.4" x2="580.88" y2="572" stroke="#262626" stroke-width="1.0"/>
<text x="581.27" y="579.44" font-size="6.3" text-anchor="middle" font-weight="normal" font-family='"Liberation Serif", serif' fill="#000" stroke="#000" stroke-width="0.28">-0.5</text>
<line x1="588.6" y1="558.67" x2="591.4" y2="558.67" stroke="#262626" stroke-width="1.0"/>
<text x="587.6" y="561.62" font-size="6.3" text-anchor="end" font-weight="normal" font-family='"Liberation Serif", serif' fill="#000" stroke="#000" stroke-width="0.28">0.5</text>
<line x1="601.92" y1="569.4" x2="601.92" y2="572" stroke="#262626" stroke-width="1.0"/>
<text x="602.32" y="579.44" font-size="6.3" text-anchor="middle" font-weight="normal" font-family='"Liberation Serif", serif' fill="#000" stroke="#000" stroke-width="0.28">0.5</text>
<line x1="588.6" y1="547.95" x2="591.4" y2="547.95" stroke="#262626" stroke-width="1.0"/>
<text x="587.6" y="550.89" font-size="6.3" text-anchor="end" font-weight="normal" font-family='"Liberation Serif", serif' fill="#000" stroke="#000" stroke-width="0.28">1</text>
<line x1="612.45" y1="569.4" x2="612.45" y2="572" stroke="#262626" stroke-width="1.0"/>
<text x="612.85" y="579.44" font-size="6.3" text-anchor="middle" font-weight="normal" font-family='"Liberation Serif", serif' fill="#000" stroke="#000" stroke-width="0.28">1</text>
<line x1="588.6" y1="537.23" x2="591.4" y2="537.23" stroke="#262626" stroke-width="1.0"/>
<text x="587.6" y="540.17" font-size="6.3" text-anchor="end" font-weight="normal" font-family='"Liberation Serif", serif' fill="#000" stroke="#000" stroke-width="0.28">1.5</text>
<line x1="622.98" y1="569.4" x2="622.98" y2="572" stroke="#262626" stroke-width="1.0"/>
<text x="623.38" y="579.44" font-size="6.3" text-anchor="middle" font-weight="normal" font-family='"Liberation Serif", serif' fill="#000" stroke="#000" stroke-width="0.28">1.5</text>
<line x1="588.6" y1="526.5" x2="591.4" y2="526.5" stroke="#262626" stroke-width="1.0"/>
<text x="587.6" y="529.44" font-size="6.3" text-anchor="end" font-weight="normal" font-family='"Liberation Serif", serif' fill="#000" stroke="#000" stroke-width="0.28">2</text>
<line x1="633.5" y1="569.4" x2="633.5" y2="572" stroke="#262626" stroke-width="1.0"/>
<text x="633.9" y="579.44" font-size="6.3" text-anchor="middle" font-weight="normal" font-family='"Liberation Serif", serif' fill="#000" stroke="#000" stroke-width="0.28">2</text>
<line x1="588.6" y1="515.77" x2="591.4" y2="515.77" stroke="#262626" stroke-width="1.0"/>
<text x="587.6" y="518.72" font-size="6.3" text-anchor="end" font-weight="normal" font-family='"Liberation Serif", serif' fill="#000" stroke="#000" stroke-width="0.28">2.5</text>
<line x1="644.02" y1="569.4" x2="644.02" y2="572" stroke="#262626" stroke-width="1.0"/>
<text x="644.42" y="579.44" font-size="6.3" text-anchor="middle" font-weight="normal" font-family='"Liberation Serif", serif' fill="#000" stroke="#000" stroke-width="0.28">2.5</text>
<line x1="588.6" y1="505.05" x2="591.4" y2="505.05" stroke="#262626" stroke-width="1.0"/>
<text x="587.6" y="507.99" font-size="6.3" text-anchor="end" font-weight="normal" font-family='"Liberation Serif", serif' fill="#000" stroke="#000" stroke-width="0.28">3</text>
<line x1="654.55" y1="569.4" x2="654.55" y2="572" stroke="#262626" stroke-width="1.0"/>
<text x="654.95" y="579.44" font-size="6.3" text-anchor="middle" font-weight="normal" font-family='"Liberation Serif", serif' fill="#000" stroke="#000" stroke-width="0.28">3</text>
<line x1="588.6" y1="494.33" x2="591.4" y2="494.33" stroke="#262626" stroke-width="1.0"/>
<text x="587.6" y="497.27" font-size="6.3" text-anchor="end" font-weight="normal" font-family='"Liberation Serif", serif' fill="#000" stroke="#000" stroke-width="0.28">3.5</text>
<line x1="665.08" y1="569.4" x2="665.08" y2="572" stroke="#262626" stroke-width="1.0"/>
<text x="665.48" y="579.44" font-size="6.3" text-anchor="middle" font-weight="normal" font-family='"Liberation Serif", serif' fill="#000" stroke="#000" stroke-width="0.28">3.5</text>
<line x1="588.6" y1="483.6" x2="591.4" y2="483.6" stroke="#262626" stroke-width="1.0"/>
<text x="587.6" y="486.54" font-size="6.3" text-anchor="end" font-weight="normal" font-family='"Liberation Serif", serif' fill="#000" stroke="#000" stroke-width="0.28">4</text>
<line x1="675.6" y1="569.4" x2="675.6" y2="572" stroke="#262626" stroke-width="1.0"/>
<text x="676" y="579.44" font-size="6.3" text-anchor="middle" font-weight="normal" font-family='"Liberation Serif", serif' fill="#000" stroke="#000" stroke-width="0.28">4</text>
<polygon points="570,538 572,540 570,542 568,540" fill="#000"/>
<polygon points="574,565.6 576,567.6 574,569.6 572,567.6" fill="#000"/>
<polygon points="597.4,559 599.4,561 597.4,563 595.4,561" fill="#000"/>
<polygon points="601.6,554.6 603.6,556.6 601.6,558.6 599.6,556.6" fill="#000"/>
<polygon points="616.4,542 618.4,544 616.4,546 614.4,544" fill="#000"/>
<polygon points="631,522.6 633,524.6 631,526.6 629,524.6" fill="#000"/>
<polygon points="610.4,570 612.4,572 610.4,574 608.4,572" fill="#000"/>
<polygon points="641.6,574 643.6,576 641.6,578 639.6,576" fill="#000"/>
<polygon points="589,598 591,600 589,602 587,600" fill="#000"/>
<text x="595" y="670.8" font-size="9.0" text-anchor="middle" font-weight="bold" font-family='"Liberation Serif", serif' fill="#000" textLength="46.8" lengthAdjust="spacingAndGlyphs" stroke="#000" stroke-width="0.45">WT carriers</text>
<text x="0" y="0" transform="translate(494.9,567.65) rotate(-90)" font-size="8.7" text-anchor="middle" font-weight="bold" font-family='"Liberation Serif", serif' fill="#000" textLength="136.7" lengthAdjust="spacingAndGlyphs" stroke="#000" stroke-width="0.45">MC4R mutations impaired function</text>
</g>
</svg>
</body></html>
